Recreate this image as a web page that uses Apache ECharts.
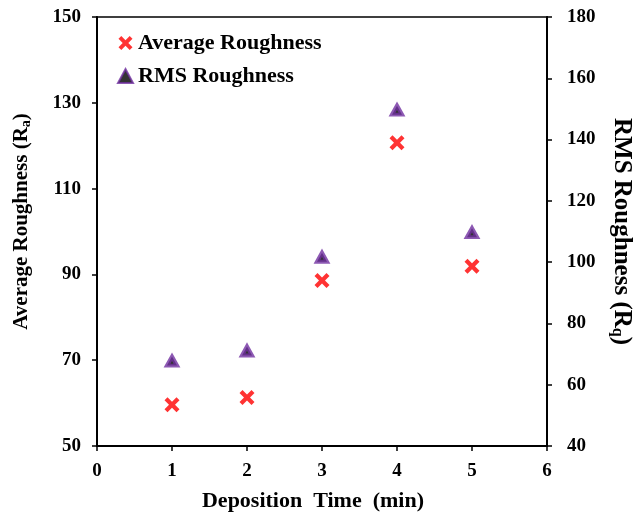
<!DOCTYPE html>
<html>
<head>
<meta charset="utf-8">
<script src="https://cdn.jsdelivr.net/npm/echarts@6/dist/echarts.min.js"></script>
<style>
  html, body { margin: 0; padding: 0; background: #fff; }
  #chart { width: 634px; height: 515px; }
</style>
</head>
<body>
<div id="chart"></div>
<script>
// deposition time (min)
const depositionTime = [1, 2, 3, 4, 5];
// average roughness Ra (left axis)
const averageRoughness = [59.6, 61.3, 88.6, 120.7, 91.9];
// RMS roughness Rq (right axis)
const rmsRoughness = [67.7, 71.0, 101.6, 149.6, 109.6];

const font = 'Liberation Serif, Times New Roman, serif';
const crossPath = 'path://M2,0 L5,3 L8,0 L10,2 L7,5 L10,8 L8,10 L5,7 L2,10 L0,8 L3,5 L0,2 Z';

window.addEventListener('DOMContentLoaded', function() {
    const myChart = echarts.init(document.getElementById('chart'));

    const axisText = { color: '#000', fontFamily: font, fontWeight: 'bold', fontSize: 19 };
    function nameRich(size) {
        return {
            n: { fontSize: size, fontFamily: font, fontWeight: 'bold', color: '#000' },
            sub: { fontSize: Math.round(size * 0.65), fontFamily: font, fontWeight: 'bold', color: '#000', verticalAlign: 'bottom', padding: [9, 0, 0, 0] }
        };
    }

    const option = {
        animation: false,
        grid: {
            left: 97, right: 87, top: 17, bottom: 69,
            outerBoundsMode: 'none',
            containLabel: false,
            show: true, borderColor: '#000', borderWidth: 1.5
        },
        legend: {
            orient: 'vertical',
            left: 112,
            top: 27,
            itemGap: 11,
            itemWidth: 15,
            itemHeight: 14,
            textStyle: { color: '#000', fontFamily: font, fontWeight: 'bold', fontSize: 22 },
            data: ['Average Roughness', 'RMS Roughness']
        },
        xAxis: {
            type: 'value',
            min: 0, max: 6, interval: 1,
            name: 'Deposition  Time  (min)',
            nameLocation: 'middle',
            nameGap: 44,
            nameTextStyle: { color: '#000', fontFamily: font, fontWeight: 'bold', fontSize: 22, padding: [0, 18, 0, 0] },
            axisLine: { show: true, lineStyle: { color: '#000', width: 2 } },
            axisTick: { show: true, length: 5, lineStyle: { color: '#000', width: 1.5 } },
            axisLabel: Object.assign({ margin: 16 }, axisText),
            splitLine: { show: false }
        },
        yAxis: [
            {
                type: 'value',
                min: 50, max: 150, interval: 20,
                position: 'left',
                name: '{n|Average Roughness (R}{sub|a}{n|)}',
                nameLocation: 'middle',
                nameGap: 64,
                nameTextStyle: { rich: nameRich(21), padding: [0, 0, 0, 20] },
                axisLine: { show: true, lineStyle: { color: '#000', width: 2 } },
                axisTick: { show: true, length: 5, lineStyle: { color: '#000', width: 1.5 } },
                axisLabel: Object.assign({ margin: 16 }, axisText),
                splitLine: { show: false }
            },
            {
                type: 'value',
                min: 40, max: 180, interval: 20,
                position: 'right',
                name: '{n|RMS Roughness (R}{sub|q}{n|)}',
                nameLocation: 'middle',
                nameRotate: -90,
                nameGap: 62,
                nameTextStyle: { rich: nameRich(25) },
                axisLine: { show: true, lineStyle: { color: '#000', width: 2 } },
                axisTick: { show: true, length: 5, lineStyle: { color: '#000', width: 1.5 } },
                axisLabel: Object.assign({ margin: 20 }, axisText),
                splitLine: { show: false }
            }
        ],
        series: [
            {
                name: 'Average Roughness',
                type: 'scatter',
                yAxisIndex: 0,
                symbol: crossPath,
                symbolSize: 15,
                itemStyle: { color: '#ff0000' },
                data: depositionTime.map((t, i) => [t, averageRoughness[i]])
            },
            {
                name: 'RMS Roughness',
                type: 'scatter',
                yAxisIndex: 1,
                symbol: 'triangle',
                symbolSize: [10, 9],
                itemStyle: { color: '#000', borderColor: '#7030a0', borderWidth: 4 },
                data: depositionTime.map((t, i) => [t, rmsRoughness[i]])
            }
        ]
    };

    myChart.setOption(option);
});
</script>
</body>
</html>
